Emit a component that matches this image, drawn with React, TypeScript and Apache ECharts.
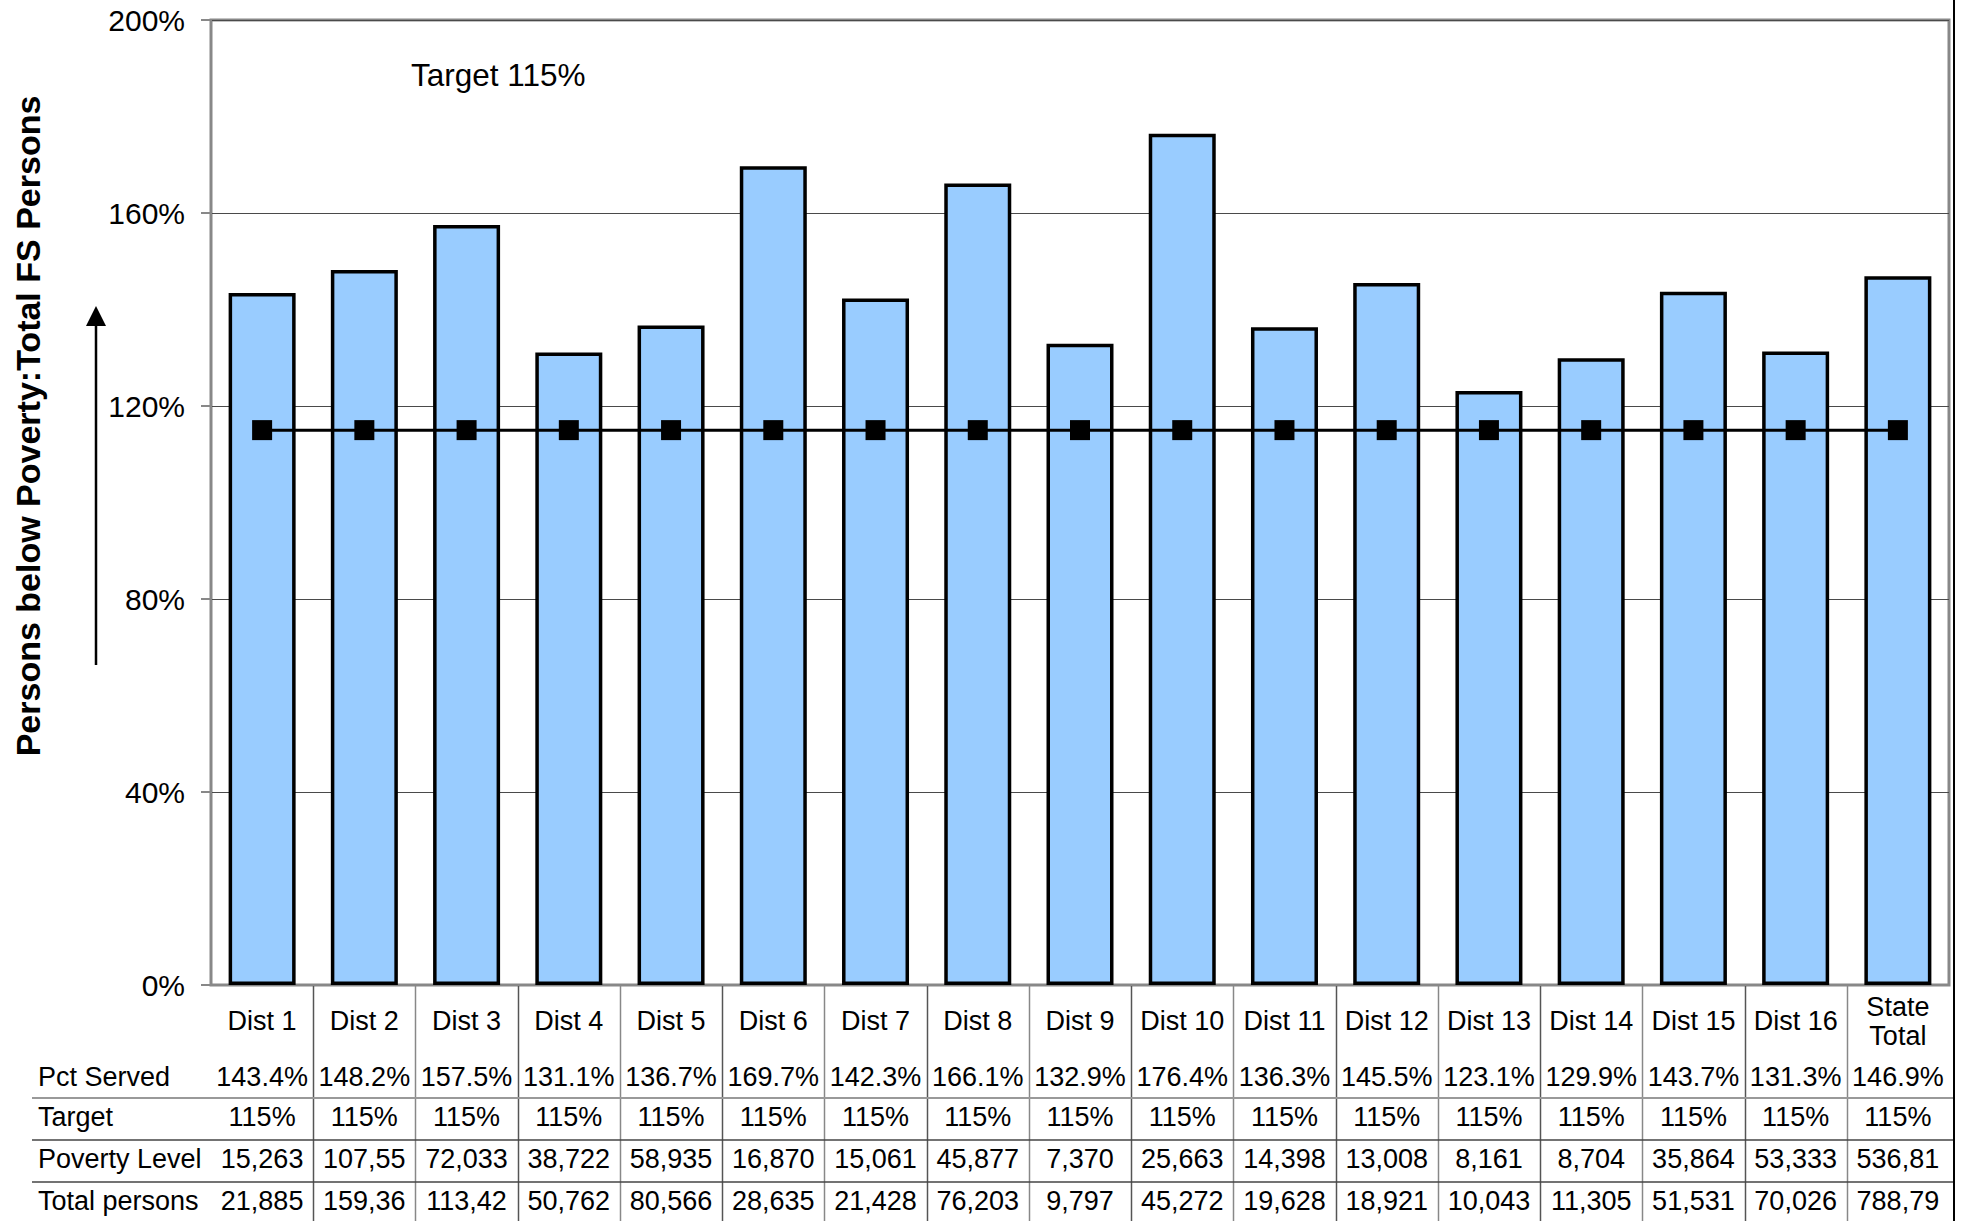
import React, { useEffect, useRef } from "react";
import * as echarts from "echarts";

const categories = [
  "Dist 1", "Dist 2", "Dist 3", "Dist 4", "Dist 5", "Dist 6", "Dist 7", "Dist 8",
  "Dist 9", "Dist 10", "Dist 11", "Dist 12", "Dist 13", "Dist 14", "Dist 15", "Dist 16",
  "State\nTotal",
];
const pctServed = [
  143.4, 148.2, 157.5, 131.1, 136.7, 169.7, 142.3, 166.1, 132.9, 176.4, 136.3, 145.5,
  123.1, 129.9, 143.7, 131.3, 146.9,
];
const target = [115, 115, 115, 115, 115, 115, 115, 115, 115, 115, 115, 115, 115, 115, 115, 115, 115];
const povertyLevel = [
  "15,263", "107,55", "72,033", "38,722", "58,935", "16,870", "15,061", "45,877", "7,370",
  "25,663", "14,398", "13,008", "8,161", "8,704", "35,864", "53,333", "536,81",
];
const totalPersons = [
  "21,885", "159,36", "113,42", "50,762", "80,566", "28,635", "21,428", "76,203", "9,797",
  "45,272", "19,628", "18,921", "10,043", "11,305", "51,531", "70,026", "788,79",
];
const rowLabels = ["Pct Served", "Target", "Poverty Level", "Total persons"];
const yMin = 0;
const yMax = 200;
const yInterval = 40;
const yTitle = "Persons below Poverty:Total FS Persons";
const targetNote = "Target 115%";

const FONT = "'Liberation Sans', Arial, sans-serif";
const W = 1965;
const H = 1221;

export default function App() {
  const ref = useRef<HTMLDivElement>(null);
  useEffect(() => {
    if (!ref.current) return;
    const chart = echarts.init(ref.current, null, { renderer: "svg" });
    const rowCenters = [1077, 1117, 1159, 1201];
    const rowTexts = [
      pctServed.map((v) => v.toFixed(1) + "%"),
      target.map((v) => v + "%"),
      povertyLevel,
      totalPersons,
    ];
    const axisY = 985;
    const tableAxes = rowTexts.map((row, i) => ({
      type: "category",
      gridIndex: 0,
      position: "bottom",
      offset: rowCenters[i] - axisY,
      data: row,
      axisLine: { show: false },
      axisTick: { show: false },
      splitLine: { show: false },
      axisLabel: {
        interval: 0,
        margin: 0,
        verticalAlign: "middle",
        fontSize: 27,
        fontFamily: FONT,
        color: "#000",
      },
    }));
    const option: any = {
      animation: false,
      backgroundColor: "#fff",
      textStyle: { fontFamily: FONT },
      grid: {
        left: 211,
        right: 16,
        top: 20,
        bottom: H - axisY,
        show: true,
        borderColor: "#888",
        borderWidth: 3,
        containLabel: false,
      },
      xAxis: [
        {
          type: "category",
          data: categories,
          axisLine: { show: true, lineStyle: { color: "#888", width: 2 } },
          axisTick: { show: false },
          axisLabel: {
            interval: 0,
            margin: 36,
            verticalAlign: "middle",
            fontSize: 27,
            lineHeight: 29,
            fontFamily: FONT,
            color: "#000",
          },
        },
        ...tableAxes,
      ],
      yAxis: {
        type: "value",
        min: yMin,
        max: yMax,
        interval: yInterval,
        axisLine: { show: true, lineStyle: { color: "#888", width: 2 } },
        axisTick: { show: true, length: 10, lineStyle: { color: "#888", width: 2 } },
        splitLine: { show: true, lineStyle: { color: "#4a4a4a", width: 1.2 } },
        axisLabel: {
          margin: 26,
          fontSize: 30,
          fontFamily: FONT,
          color: "#000",
          formatter: (v: number) => v + "%",
        },
      },
      series: [
        {
          type: "bar",
          data: pctServed,
          barWidth: 67,
          itemStyle: { color: "#99CCFF", borderColor: "#000", borderWidth: 3.5 },
        },
        {
          type: "line",
          data: target,
          symbol: "rect",
          symbolSize: 20,
          lineStyle: { color: "#000", width: 3 },
          itemStyle: { color: "#000" },
          z: 5,
        },
      ],
    };
    chart.setOption(option);

    const c0 = chart.convertToPixel({ xAxisIndex: 0 }, 0) as number;
    const c1 = chart.convertToPixel({ xAxisIndex: 0 }, 1) as number;
    const band = c1 - c0;
    const leftEdge = c0 - band / 2;
    const graphics: any[] = [];
    for (let k = 1; k < categories.length; k++) {
      const x = Math.round(leftEdge + k * band) + 0.5;
      graphics.push({
        type: "line",
        shape: { x1: x, y1: axisY, x2: x, y2: H },
        style: { stroke: k % 2 ? "#555" : "#888", lineWidth: 1.5 },
      });
    }
    const sepYs = [1098, 1140, 1182];
    sepYs.forEach((y, i) => {
      graphics.push({
        type: "line",
        shape: { x1: 32, y1: y, x2: 1954, y2: y },
        style: { stroke: i === 0 ? "#999" : "#444", lineWidth: i === 0 ? 2 : 1.5 },
      });
    });
    rowLabels.forEach((t, i) => {
      graphics.push({
        type: "text",
        x: 38,
        y: rowCenters[i],
        style: {
          text: t,
          fontSize: 27,
          fontFamily: FONT,
          fill: "#000",
          textAlign: "left",
          textVerticalAlign: "middle",
        },
      });
    });
    // outer frame line on the right
    graphics.push({
      type: "line",
      shape: { x1: 1954, y1: 0, x2: 1954, y2: H },
      style: { stroke: "#000", lineWidth: 2 },
    });
    // y-axis title
    graphics.push({
      type: "text",
      x: 28,
      y: 426,
      rotation: Math.PI / 2,
      style: {
        text: yTitle,
        fontSize: 34,
        fontWeight: "bold",
        fontFamily: FONT,
        fill: "#000",
        textAlign: "center",
        textVerticalAlign: "middle",
      },
    });
    // arrow
    graphics.push({
      type: "line",
      shape: { x1: 96, y1: 665, x2: 96, y2: 322 },
      style: { stroke: "#000", lineWidth: 2.5 },
    });
    graphics.push({
      type: "polygon",
      shape: { points: [[86, 326], [106, 326], [96, 306]] },
      style: { fill: "#000" },
    });
    // target note
    graphics.push({
      type: "text",
      x: 411,
      y: 75,
      style: {
        text: targetNote,
        fontSize: 31.5,
        fontFamily: FONT,
        fill: "#000",
        textAlign: "left",
        textVerticalAlign: "middle",
      },
    });
    chart.setOption({ graphic: graphics });

    return () => chart.dispose();
  }, []);
  return (
    <div
      ref={ref}
      style={{ position: "fixed", left: 0, top: 0, width: W, height: H, background: "#fff" }}
    />
  );
}
